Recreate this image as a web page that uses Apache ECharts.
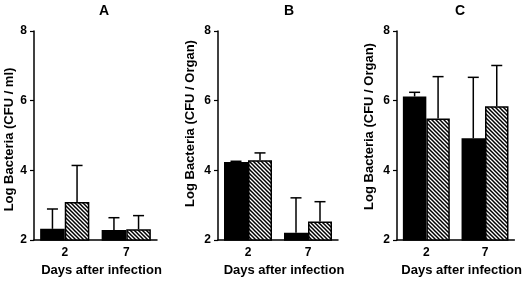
<!DOCTYPE html>
<html>
<head>
<meta charset="utf-8">
<script src="https://cdn.jsdelivr.net/npm/echarts@6/dist/echarts.min.js"></script>
<style>
  html, body { margin: 0; padding: 0; background: #fff; }
  #main { width: 525px; height: 282px; }
</style>
</head>
<body>
<div id="main"></div>
<script>
// categories (days after infection)
let days = ['2', '7']
let panels = ['A', 'B', 'C']
let yNames = ['Log Bacteria (CFU / ml)', 'Log Bacteria (CFU / Organ)', 'Log Bacteria (CFU / Organ)']

// solid (black) bars: mean and upper error
let solidA = [2.32, 2.29]
let solidErrA = [0.57, 0.35]
let solidB = [4.24, 2.21]
let solidErrB = [0.02, 1.0]
let solidC = [6.12, 4.92]
let solidErrC = [0.12, 1.75]

// hatched bars: mean and upper error
let hatchA = [3.09, 2.31]
let hatchErrA = [1.05, 0.39]
let hatchB = [4.29, 2.53]
let hatchErrB = [0.21, 0.57]
let hatchC = [5.49, 5.84]
let hatchErrC = [1.2, 1.17]

// y axis ticks: 2, 4, 6, 8
let yMin = 2
let yMax = 8
let yStep = 2

let font = 'Liberation Sans, Arial, sans-serif'

// diagonal hatch tile
function makeHatch() {
  let c = document.createElement('canvas')
  c.width = 4
  c.height = 4
  let ctx = c.getContext('2d')
  ctx.fillStyle = '#fff'
  ctx.fillRect(0, 0, 4, 4)
  ctx.strokeStyle = '#000'
  ctx.lineWidth = 1.5
  ctx.beginPath()
  ctx.moveTo(-1, -1); ctx.lineTo(5, 5)
  ctx.moveTo(3, -1); ctx.lineTo(5, 1)
  ctx.moveTo(-1, 3); ctx.lineTo(1, 5)
  ctx.stroke()
  return c
}
let hatch = makeHatch()

let solid = [solidA, solidB, solidC]
let solidErr = [solidErrA, solidErrB, solidErrC]
let hatched = [hatchA, hatchB, hatchC]
let hatchedErr = [hatchErrA, hatchErrB, hatchErrC]

let grids = [
  { left: 34, top: 31, width: 123, height: 210 },
  { left: 218, top: 31, width: 120, height: 210 },
  { left: 397, top: 31, width: 121, height: 210 }
]
let titleLeft = [99, 284, 455]
let yNameGap = [18, 21, 21]
let yNamePad = [[0, 8, 0, 0], [0, 0, 0, 24], [0, 0, 0, 18]]

// error bar drawn upward from the top of a bar
function errorItem(side) {
  return function (params, api) {
    let x = api.value(0)
    let v = api.value(1)
    let e = api.value(2)
    let base = api.coord([x, v])
    let top = api.coord([x, v + e])
    let bw = api.size([1, 0])[0]
    let cx = base[0] + side * bw * 0.2
    let style = { stroke: '#000', lineWidth: 1.5 }
    return {
      type: 'group',
      children: [
        { type: 'line', shape: { x1: cx, y1: base[1], x2: cx, y2: top[1] }, style: style },
        { type: 'line', shape: { x1: cx - 5.5, y1: top[1], x2: cx + 5.5, y2: top[1] }, style: style }
      ]
    }
  }
}

let option = {
  animation: false,
  backgroundColor: '#fff',
  title: [],
  grid: grids,
  xAxis: [],
  yAxis: [],
  series: []
}

for (let i = 0; i < 3; i++) {
  option.title.push({
    text: panels[i],
    left: titleLeft[i],
    top: 4,
    padding: 0,
    textStyle: { fontFamily: font, fontSize: 14, fontWeight: 'bold', color: '#000' }
  })
  option.xAxis.push({
    type: 'category',
    gridIndex: i,
    data: days,
    name: 'Days after infection',
    nameLocation: 'middle',
    nameGap: 24,
    nameTextStyle: { fontFamily: font, fontSize: 13, fontWeight: 'bold', color: '#000', padding: [0, 0, 0, 12] },
    axisLine: { lineStyle: { color: '#000', width: 1.5 } },
    axisTick: { alignWithLabel: true, length: 4, lineStyle: { color: '#000', width: 1.2 } },
    axisLabel: { fontFamily: font, fontSize: 12, fontWeight: 'bold', color: '#000', margin: 7 }
  })
  option.yAxis.push({
    type: 'value',
    gridIndex: i,
    min: yMin,
    max: yMax,
    interval: yStep,
    name: yNames[i],
    nameLocation: 'middle',
    nameGap: yNameGap[i],
    nameTextStyle: { fontFamily: font, fontSize: 13, fontWeight: 'bold', color: '#000', padding: yNamePad[i] },
    splitLine: { show: false },
    axisLine: { show: true, lineStyle: { color: '#000', width: 1.5 } },
    axisTick: { show: true, length: 4, lineStyle: { color: '#000', width: 1.2 } },
    axisLabel: { fontFamily: font, fontSize: 12, fontWeight: 'bold', color: '#000', margin: 7 }
  })
  option.series.push({
    type: 'bar',
    xAxisIndex: i,
    yAxisIndex: i,
    barGap: '0%',
    barCategoryGap: '20%',
    itemStyle: { color: '#000', borderColor: '#000', borderWidth: 1.5 },
    data: solid[i]
  })
  option.series.push({
    type: 'bar',
    xAxisIndex: i,
    yAxisIndex: i,
    barGap: '0%',
    barCategoryGap: '20%',
    itemStyle: { color: { image: hatch, repeat: 'repeat' }, borderColor: '#000', borderWidth: 1.5 },
    data: hatched[i]
  })
  option.series.push({
    type: 'custom',
    xAxisIndex: i,
    yAxisIndex: i,
    renderItem: errorItem(-1),
    z: 3,
    data: days.map((d, k) => [k, solid[i][k], solidErr[i][k]])
  })
  option.series.push({
    type: 'custom',
    xAxisIndex: i,
    yAxisIndex: i,
    renderItem: errorItem(1),
    z: 3,
    data: days.map((d, k) => [k, hatched[i][k], hatchedErr[i][k]])
  })
}

let myChart = echarts.init(document.getElementById('main'))
myChart.setOption(option)
</script>
</body>
</html>
